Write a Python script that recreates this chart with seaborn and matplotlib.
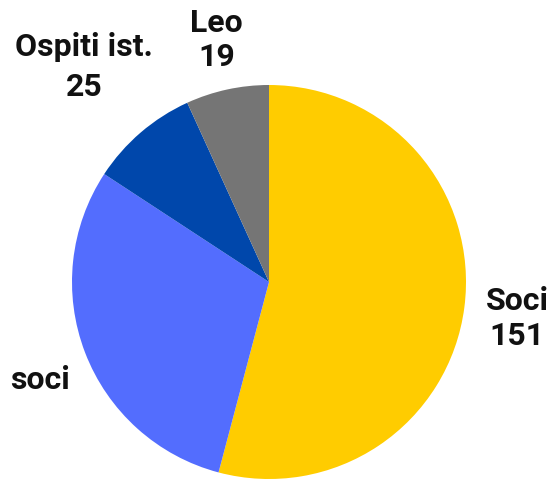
import numpy as np
import matplotlib
matplotlib.use("Agg")
import matplotlib.pyplot as plt
import seaborn as sns

labels = ["Soci", "soci", "Ospiti ist.", "Leo"]
values = [151, 84, 25, 19]
shown = ["151", "", "25", "19"]
colors = ["#FFCC00", "#536DFE", "#0047AB", "#757575"]

sns.set_theme(style="white")
plt.rcParams['font.family'] = ['Roboto', 'DejaVu Sans']

fig = plt.figure(figsize=(5.52, 4.84), dpi=100)
ax = fig.add_axes([0, 0, 1, 1])

wedges, _ = ax.pie(values, colors=colors, startangle=90, counterclock=False,
                   center=(0, 0), radius=1,
                   wedgeprops=dict(linewidth=0))

# label distance / angle nudge per slice, relative to radius
dist = [1.272, 1.265, 1.44, 1.255]
nudge = [-0.9, 2.2, 0.0, 0.0]
spacing = [1.2, 1.2, 1.4, 1.17]
for w, lab, val, d, n, ls in zip(wedges, labels, shown, dist, nudge, spacing):
    ang = np.deg2rad((w.theta1 + w.theta2) / 2 + n)
    txt = lab if val == "" else lab + "\n" + val
    ax.text(d * np.cos(ang), d * np.sin(ang), txt, ha="center", va="center",
            fontsize=23, fontweight="bold", color="#111111", linespacing=ls)

# place the pie in pixel terms: center (269, 282), radius ~197 px
W, H = 552, 484
cx, cy, r = 269, 282, 197
ax.set_xlim(-cx / r, (W - cx) / r)
ax.set_ylim(-(H - cy) / r, cy / r)
ax.set_aspect("equal")
ax.axis("off")

fig.savefig("out.png", dpi=100)
